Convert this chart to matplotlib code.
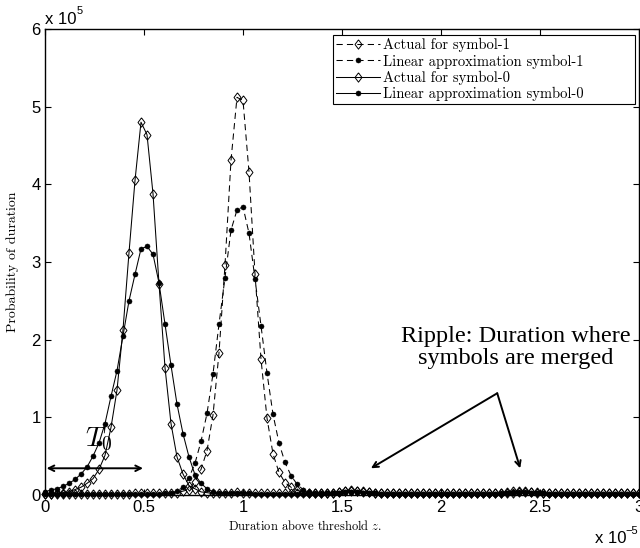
import numpy as np
import matplotlib
matplotlib.use('Agg')
import matplotlib.pyplot as plt

plt.rcParams['font.family'] = ['Liberation Sans', 'DejaVu Sans']
plt.rcParams['mathtext.fontset'] = 'cm'

# duration above threshold (x 1e-5), 100 samples from 0 to 3
duration = np.linspace(0, 3, 100)

# probability of duration (x 1e5)
actual_sym1 = [
    0.01, 0.01, 0.01, 0.01, 0.01, 0.01, 0.01, 0.01, 0.01, 0.01,
    0.01, 0.01, 0.01, 0.01, 0.01, 0.02, 0.02, 0.02, 0.02, 0.02,
    0.02, 0.02, 0.03, 0.05, 0.07, 0.17, 0.33, 0.57, 1.03, 1.83,
    2.96, 4.31, 5.12, 5.08, 4.16, 2.85, 1.75, 0.99, 0.53, 0.29,
    0.16, 0.10, 0.06, 0.04, 0.03, 0.02, 0.02, 0.03, 0.03, 0.04,
    0.05, 0.06, 0.05, 0.05, 0.04, 0.03, 0.02, 0.02, 0.02, 0.02,
    0.02, 0.02, 0.02, 0.02, 0.02, 0.02, 0.02, 0.02, 0.02, 0.02,
    0.02, 0.02, 0.02, 0.02, 0.02, 0.02, 0.03, 0.04, 0.05, 0.05,
    0.05, 0.04, 0.04, 0.03, 0.02, 0.02, 0.02, 0.02, 0.02, 0.02,
    0.02, 0.02, 0.02, 0.02, 0.02, 0.02, 0.02, 0.02, 0.02, 0.02,
]
linear_sym1 = [
    0.01, 0.01, 0.01, 0.01, 0.01, 0.01, 0.01, 0.01, 0.01, 0.01,
    0.01, 0.01, 0.01, 0.01, 0.01, 0.01, 0.01, 0.01, 0.01, 0.01,
    0.02, 0.03, 0.05, 0.10, 0.22, 0.41, 0.69, 1.05, 1.56, 2.20,
    2.80, 3.41, 3.67, 3.71, 3.37, 2.78, 2.18, 1.57, 1.04, 0.67,
    0.42, 0.25, 0.14, 0.07, 0.04, 0.03, 0.02, 0.02, 0.03, 0.03,
    0.04, 0.04, 0.04, 0.03, 0.03, 0.02, 0.01, 0.01, 0.01, 0.01,
    0.01, 0.01, 0.01, 0.01, 0.01, 0.01, 0.01, 0.01, 0.01, 0.01,
    0.01, 0.01, 0.01, 0.01, 0.01, 0.01, 0.02, 0.03, 0.04, 0.04,
    0.04, 0.03, 0.03, 0.02, 0.01, 0.01, 0.01, 0.01, 0.01, 0.01,
    0.01, 0.01, 0.01, 0.01, 0.01, 0.01, 0.01, 0.01, 0.01, 0.01,
]
actual_sym0 = [
    0.01, 0.01, 0.02, 0.02, 0.04, 0.07, 0.10, 0.15, 0.21, 0.33,
    0.51, 0.87, 1.35, 2.13, 3.12, 4.05, 4.80, 4.64, 3.88, 2.72,
    1.64, 0.92, 0.49, 0.27, 0.12, 0.08, 0.04, 0.03, 0.02, 0.02,
    0.03, 0.03, 0.04, 0.03, 0.03, 0.02, 0.02, 0.02, 0.02, 0.02,
    0.02, 0.02, 0.02, 0.02, 0.02, 0.02, 0.02, 0.03, 0.03, 0.04,
    0.05, 0.05, 0.05, 0.04, 0.04, 0.03, 0.02, 0.02, 0.02, 0.02,
    0.02, 0.02, 0.02, 0.02, 0.02, 0.02, 0.02, 0.02, 0.02, 0.02,
    0.02, 0.02, 0.02, 0.02, 0.02, 0.02, 0.02, 0.03, 0.03, 0.04,
    0.04, 0.04, 0.03, 0.03, 0.02, 0.02, 0.02, 0.02, 0.02, 0.02,
    0.02, 0.02, 0.02, 0.02, 0.02, 0.02, 0.02, 0.02, 0.02, 0.02,
]
linear_sym0 = [
    0.04, 0.065, 0.08, 0.11, 0.15, 0.20, 0.27, 0.36, 0.50, 0.67,
    0.92, 1.27, 1.60, 2.05, 2.50, 2.84, 3.17, 3.20, 3.10, 2.73,
    2.20, 1.67, 1.17, 0.79, 0.49, 0.26, 0.15, 0.08, 0.04, 0.03,
    0.02, 0.02, 0.03, 0.03, 0.02, 0.01, 0.01, 0.01, 0.01, 0.01,
    0.01, 0.01, 0.01, 0.01, 0.01, 0.01, 0.01, 0.02, 0.02, 0.03,
    0.04, 0.04, 0.04, 0.03, 0.03, 0.02, 0.01, 0.01, 0.01, 0.01,
    0.01, 0.01, 0.01, 0.01, 0.01, 0.01, 0.01, 0.01, 0.01, 0.01,
    0.01, 0.01, 0.01, 0.01, 0.01, 0.01, 0.01, 0.02, 0.02, 0.03,
    0.03, 0.03, 0.02, 0.02, 0.01, 0.01, 0.01, 0.01, 0.01, 0.01,
    0.01, 0.01, 0.01, 0.01, 0.01, 0.01, 0.01, 0.01, 0.01, 0.01,
]

labels = ['Actual for symbol-1', 'Linear approximation symbol-1',
          'Actual for symbol-0', 'Linear approximation symbol-0']

diamond = [(0, 1), (0.75, 0), (0, -1), (-0.75, 0), (0, 1)]
dashed = (0, (6, 4))

fig = plt.figure(figsize=(6.4, 5.48), dpi=100)
ax = fig.add_axes([45 / 640, 53 / 548, 594 / 640, 466 / 548])

common = dict(color='k', lw=0.75, clip_on=False)
ax.plot(duration, actual_sym1, ls=dashed, marker=diamond, ms=6.7,
        mfc='none', mec='k', mew=0.7, label=labels[0], **common)
ax.plot(duration, linear_sym1, ls=dashed, marker='o', ms=3.6,
        mfc='k', mec='k', mew=0.4, label=labels[1], **common)
ax.plot(duration, actual_sym0, ls='-', marker=diamond, ms=6.7,
        mfc='none', mec='k', mew=0.7, label=labels[2], **common)
ax.plot(duration, linear_sym0, ls='-', marker='o', ms=3.6,
        mfc='k', mec='k', mew=0.4, label=labels[3], **common)

ax.set_xlim(0, 3)
ax.set_ylim(0, 6)
ax.set_xticks([0, 0.5, 1, 1.5, 2, 2.5, 3])
ax.set_xticklabels(['0', '0.5', '1', '1.5', '2', '2.5', '3'])
ax.set_yticks([0, 1, 2, 3, 4, 5, 6])
ax.set_yticklabels(['0', '1', '2', '3', '4', '5', '6'])
ax.tick_params(direction='in', top=True, right=True, length=4, width=0.8,
               labelsize=12)
ax.tick_params(axis='x', pad=3.5)
ax.tick_params(axis='y', pad=3)
for s in ax.spines.values():
    s.set_linewidth(1.0)

ax.set_xlabel('Duration above threshold $z$.', family='cmr10', fontsize=9)
ax.xaxis.set_label_coords((305 - 45) / 594, -(519 - 495) / 466)
ax.set_ylabel('Probability of duration', family='cmr10', fontsize=10)
ax.yaxis.set_label_coords(-(45 - 19) / 594, 0.5)

# axis multipliers
fig.text(45 / 640, 1 - 24.5 / 548, 'x 10', fontsize=12, va='baseline')
fig.text(77 / 640, 1 - 13.5 / 548, '5', fontsize=8, va='baseline')
fig.text(595 / 640, 1 - 543 / 548, 'x 10', fontsize=12, va='baseline')
fig.text(625 / 640, 1 - 534 / 548, '\u22125', fontsize=8, va='baseline')

leg = ax.legend(loc='upper left', bbox_to_anchor=(0.485, 0, 0.508, 0.987),
                mode='expand', borderaxespad=0, fancybox=False,
                prop={'family': 'cmr10', 'size': 10.5}, handlelength=3.0,
                handletextpad=0.25, labelspacing=0.15, borderpad=0.2,
                framealpha=1)
leg.get_frame().set_edgecolor('k')
leg.get_frame().set_linewidth(0.8)

# T0 double arrow
ax.annotate('', xy=(0.008, 0.344), xytext=(0.495, 0.344),
            arrowprops=dict(arrowstyle='<->', color='k', lw=1.4,
                            shrinkA=0, shrinkB=0))
ax.text(0.27, 0.72, '$T_0$', fontsize=20, ha='center', va='center')

# ripple annotation
ax.text(2.376, 1.9, 'Ripple: Duration where\nsymbols are merged',
        family='Liberation Serif', fontsize=17.5, ha='center', va='center',
        linespacing=1.1)
for tip in [(1.646, 0.344), (2.40, 0.344)]:
    ax.annotate('', xy=tip, xytext=(2.284, 1.31),
                arrowprops=dict(arrowstyle='->', color='k', lw=1.4,
                                shrinkA=0, shrinkB=0))

fig.savefig('out.png', dpi=100)
